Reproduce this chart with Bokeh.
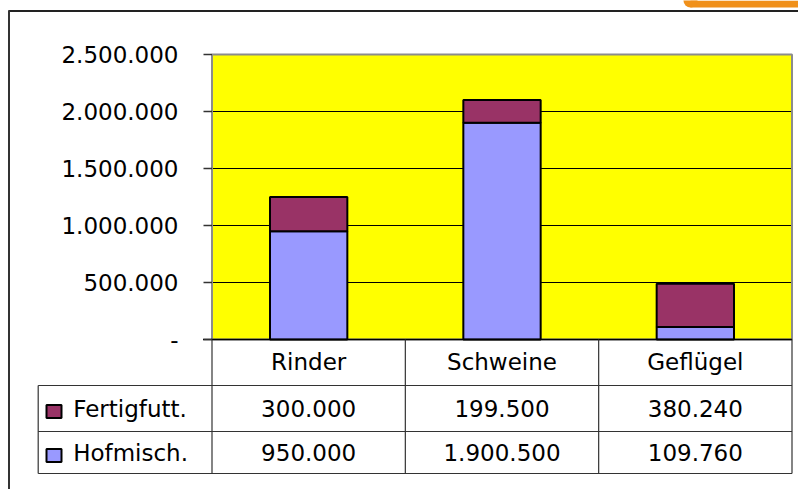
from bokeh.plotting import figure
from bokeh.models import Range1d, ColumnDataSource
from bokeh.embed import file_html
from bokeh.resources import INLINE
from bokeh.core.properties import value

# ---- data ----
categories = ["Rinder", "Schweine", "Geflügel"]
series_keys = ["Hofmisch", "Fertigfutt"]
series_labels = ["Hofmisch.", "Fertigfutt."]
hofmisch = [950000, 1900500, 109760]
fertigfutt = [300000, 199500, 380240]
series_colors = ["#9999FF", "#993366"]
y_ticks = [0, 500000, 1000000, 1500000, 2000000, 2500000]
y_tick_labels = ["-", "500.000", "1.000.000", "1.500.000", "2.000.000", "2.500.000"]
y_max = 2500000


def fmt(v):
    return f"{v:,}".replace(",", ".")


# ---- geometry (canvas pixels) ----
W, H = 798, 489
PL, PR, PT, PB = 211.5, 791.5, 54, 339
ROW_LINES = [385, 431, 473]
TABLE_LEFT = 37.7
FONT = value("DejaVu Sans")
FS = "23px"

p = figure(width=W, height=H, output_backend="svg", toolbar_location=None,
           x_range=Range1d(0, W), y_range=Range1d(H, 0),
           x_axis_location=None, y_axis_location=None, min_border=0,
           outline_line_color=None, background_fill_color="white",
           border_fill_color="white")
p.xgrid.visible = False
p.ygrid.visible = False

ncat = len(categories)
cw = (PR - PL) / ncat
p.extra_x_ranges = {"cat": Range1d(-PL / cw, (W - PL) / cw)}
kpx = (PB - PT) / y_max
p.extra_y_ranges = {"val": Range1d(-(H - PB) / kpx, PB / kpx)}

# orange tab at top right (partially visible)
p.quad(left=[690], right=[W], top=[0], bottom=[7], fill_color="#F0901A", line_color=None)
p.ellipse(x=[690], y=[0], width=14, height=14, fill_color="#F0901A", line_color=None)

# outer chart border
p.segment(x0=[8], x1=[W], y0=[10.5], y1=[10.5], line_color="#222222", line_width=2)
p.segment(x0=[8.5], x1=[8.5], y0=[10], y1=[H], line_color="#333333", line_width=2)

# plot area
p.quad(left=[0], right=[ncat], bottom=[0], top=[y_max], x_range_name="cat",
       y_range_name="val", fill_color="#FFFF00", line_color=None)
grid_vals = y_ticks[1:-1]
p.segment(x0=[0] * len(grid_vals), x1=[ncat] * len(grid_vals), y0=grid_vals, y1=grid_vals,
          x_range_name="cat", y_range_name="val", line_color="black", line_width=1)
p.quad(left=[0], right=[ncat], bottom=[0], top=[y_max], x_range_name="cat",
       y_range_name="val", fill_color=None, line_color="#8C8C8C", line_width=2)

# bars
src = ColumnDataSource(dict(x=[i + 0.5 for i in range(ncat)],
                            Hofmisch=hofmisch, Fertigfutt=fertigfutt))
p.vbar_stack(series_keys, x="x", width=0.4, fill_color=series_colors,
             line_color="black", line_width=2, source=src,
             x_range_name="cat", y_range_name="val")

# axis line and ticks
p.segment(x0=[PL - 9], x1=[PR], y0=[0], y1=[0], y_range_name="val",
          line_color="black", line_width=1.5)
p.segment(x0=[PL - 8.5] * len(y_ticks), x1=[PL] * len(y_ticks), y0=y_ticks, y1=y_ticks,
          y_range_name="val", line_color="#333333", line_width=1.5)
p.text(x=[178] * len(y_ticks), y=y_ticks, text=y_tick_labels, y_range_name="val",
       text_align="right", text_baseline="middle", text_font=FONT,
       text_font_size=FS, text_color="black")

# data table
p.segment(x0=[TABLE_LEFT] * 3, x1=[PR] * 3, y0=ROW_LINES, y1=ROW_LINES,
          line_color="#333333", line_width=1.2)
p.segment(x0=list(range(ncat + 1)), x1=list(range(ncat + 1)),
          y0=[PB] * (ncat + 1), y1=[ROW_LINES[-1]] * (ncat + 1),
          x_range_name="cat", line_color="#333333", line_width=1.2)
p.segment(x0=[TABLE_LEFT], x1=[TABLE_LEFT], y0=[ROW_LINES[0]], y1=[ROW_LINES[-1]],
          line_color="#333333", line_width=1.2)

cat_x = [i + 0.5 for i in range(ncat)]
p.text(x=cat_x, y=[361] * ncat, text=categories, x_range_name="cat",
       text_align="center", text_baseline="middle", text_font=FONT,
       text_font_size=FS, text_color="black")

rows = [(series_labels[1], fertigfutt, series_colors[1], 408, 404.5),
        (series_labels[0], hofmisch, series_colors[0], 452, 448.5)]
for label, vals, col, ty, sq_top in rows:
    p.text(x=cat_x, y=[ty] * ncat, text=[fmt(v) for v in vals], x_range_name="cat",
           text_align="center", text_baseline="middle", text_font=FONT,
           text_font_size=FS, text_color="black")
    p.quad(left=[46], right=[61], top=[sq_top], bottom=[sq_top + 13],
           fill_color=col, line_color="black", line_width=2)
    p.text(x=[72.7], y=[ty], text=[label], text_align="left", text_baseline="middle",
           text_font=FONT, text_font_size=FS, text_color="black")

open("out.html", "w").write(file_html(p, INLINE, title="Futtermittel"))
